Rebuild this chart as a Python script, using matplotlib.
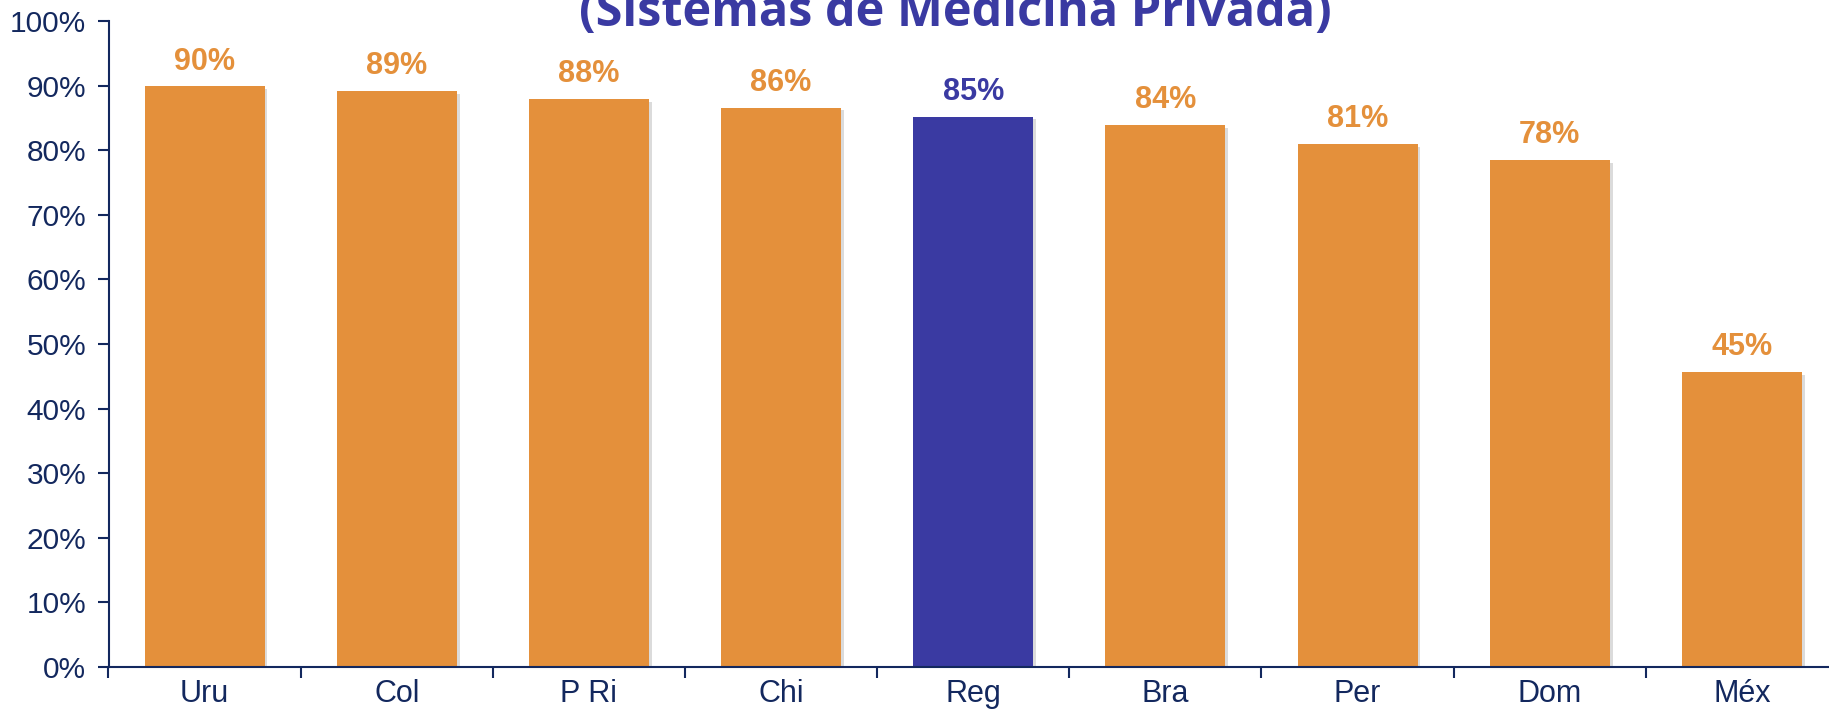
import numpy as np
import matplotlib.pyplot as plt
import matplotlib.patheffects as pe
from matplotlib.ticker import FixedLocator

# data
paises = ['Uru', 'Col', 'P Ri', 'Chi', 'Reg', 'Bra', 'Per', 'Dom', 'Méx']
valores = [89.9, 89.2, 87.9, 86.6, 85.2, 83.9, 81.0, 78.5, 45.7]
etiquetas = ['90%', '89%', '88%', '86%', '85%', '84%', '81%', '78%', '45%']
destacado = 'Reg'

naranja = '#E4903B'
azul = '#3A3AA2'
navy = '#13285E'

plt.rcParams['font.family'] = ['Liberation Sans', 'DejaVu Sans']

fig = plt.figure(figsize=(18.29, 7.16), dpi=100)
ax = fig.add_axes([108.5 / 1829, 1 - 667 / 716, (1838 - 108.5) / 1829, (667 - 21) / 716])

x = np.arange(len(paises))
colores = [azul if p == destacado else naranja for p in paises]
bars = ax.bar(x, valores, width=0.625, color=colores, zorder=2)
for b in bars:
    b.set_path_effects([pe.SimplePatchShadow(offset=(2, -2), shadow_rgbFace='#999999', alpha=0.35),
                        pe.Normal()])

for xi, v, lab, c in zip(x, valores, etiquetas, colores):
    ax.annotate(lab, (xi, v), xytext=(0, 7), textcoords='offset points',
                ha='center', va='bottom', fontsize=22, fontweight='bold', color=c)

ax.set_xlim(-0.5, len(paises) - 0.5)
ax.set_ylim(0, 100)
ax.set_yticks(np.arange(0, 101, 10))
ax.set_yticklabels([f'{t}%' for t in range(0, 101, 10)])
ax.set_xticks(x)
ax.set_xticklabels(paises)
ax.xaxis.set_minor_locator(FixedLocator(np.arange(-0.5, len(paises), 1)))

ax.tick_params(axis='y', colors=navy, labelsize=21.5, length=8, width=1.5, direction='out', pad=8)
ax.tick_params(axis='x', which='major', colors=navy, labelsize=22, length=0, pad=8.5)
ax.tick_params(axis='x', which='minor', colors=navy, length=8, width=1.5, direction='out')
for s in ['top', 'right']:
    ax.spines[s].set_visible(False)
for s in ['left', 'bottom']:
    ax.spines[s].set_color(navy)
    ax.spines[s].set_linewidth(1.5)

fig.text(955 / 1829, 1 - 26 / 716, '(Sistemas de Medicina Privada)', ha='center', va='baseline',
         fontsize=35, fontweight='bold', color=azul, family=['Open Sans', 'DejaVu Sans'])

fig.savefig('out.png', dpi=100)
